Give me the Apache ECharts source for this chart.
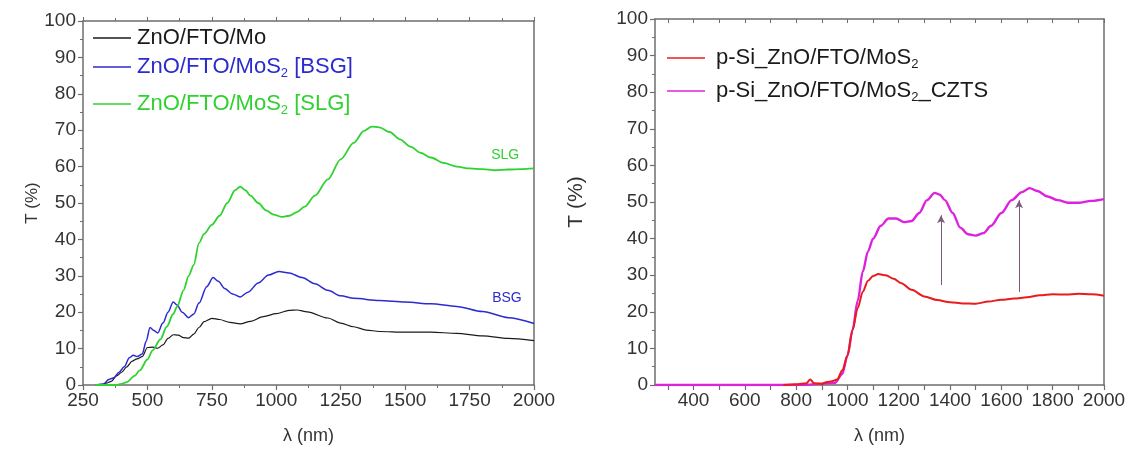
<!DOCTYPE html>
<html>
<head>
<meta charset="utf-8">
<script src="https://cdn.jsdelivr.net/npm/echarts@6/dist/echarts.min.js"></script>
<style>
  html, body { margin: 0; padding: 0; background: #fff; }
  #chart { width: 1129px; height: 457px; }
</style>
</head>
<body>
<div id="chart"></div>
<script>
// ---- Left panel: transmittance of ZnO/FTO stacks ----
const wlMo  = [300, 320, 340, 360, 380, 400, 420, 440, 460, 480, 500, 520, 540, 560, 580, 600, 620, 640, 660, 680, 700, 720, 750, 780, 820, 860, 900, 950, 1000, 1050, 1080, 1120, 1200, 1250, 1300, 1350, 1400, 1500, 1600, 1700, 1800, 1900, 2000];
const tMo   = [0, 0, 0.5, 1, 2.5, 3.5, 5, 6.5, 7.2, 7.8, 10.3, 10.4, 10.1, 11, 12.8, 13.8, 13.7, 13, 12.9, 14, 15.8, 17.4, 18.3, 18, 17.2, 16.8, 17.5, 18.8, 19.6, 20.5, 20.6, 20.1, 18.4, 17, 16, 15.1, 14.7, 14.5, 14.5, 14.2, 13.5, 12.8, 12.2];

const wlBsg = [300, 330, 350, 370, 390, 410, 430, 445, 460, 480, 495, 510, 525, 540, 560, 580, 600, 615, 635, 660, 680, 700, 730, 755, 775, 800, 830, 860, 890, 930, 970, 1010, 1050, 1100, 1150, 1200, 1250, 1300, 1400, 1500, 1600, 1700, 1800, 1900, 2000];
const tBsg  = [0, 0.3, 1.5, 2, 3.5, 5, 7.5, 8.2, 7.8, 8.5, 12, 15.8, 15, 14.3, 17, 20, 22.8, 22, 20, 18.5, 19.5, 22.5, 27, 29.5, 28.5, 26.5, 25, 24.2, 25.5, 28, 30.2, 31.2, 30.8, 29.5, 27.8, 26, 24.5, 23.8, 23.2, 22.8, 22.3, 21.6, 20.2, 18.5, 16.9];

const wlSlg = [300, 380, 400, 420, 450, 470, 500, 520, 550, 575, 600, 615, 640, 660, 680, 700, 720, 750, 780, 810, 840, 860, 880, 900, 930, 960, 990, 1020, 1050, 1080, 1110, 1150, 1200, 1250, 1300, 1340, 1370, 1400, 1440, 1480, 1520, 1560, 1600, 1650, 1700, 1750, 1800, 1850, 1900, 1950, 2000];
const tSlg  = [0, 0, 0.3, 0.8, 2.5, 4, 7, 9.5, 12.5, 16, 19.5, 21.5, 26, 30, 33, 39, 41.5, 44, 46.5, 50, 53.5, 54.5, 53.5, 52, 50, 48, 46.8, 46.2, 46.5, 47.5, 49, 52, 56.5, 62, 66.5, 69.8, 71, 70.8, 69.5, 67.5, 65.5, 63.8, 62.5, 61, 60, 59.5, 59.3, 59, 59.2, 59.3, 59.5];

// ---- Right panel: p-Si heterostructures ----
const wlPsi = [750, 800, 840, 855, 870, 900, 920, 940, 960, 980, 1000, 1020, 1040, 1060, 1080, 1100, 1120, 1150, 1180, 1210, 1250, 1300, 1350, 1400, 1450, 1500, 1550, 1600, 1650, 1700, 1750, 1800, 1850, 1900, 1950, 2000];
const tPsi  = [0, 0.2, 0.5, 1.5, 0.5, 0.3, 0.8, 1, 1.5, 4, 8, 15, 21, 25.5, 28.5, 29.8, 30.3, 30, 29, 27.8, 26, 24.2, 23.2, 22.6, 22.3, 22.2, 22.8, 23.3, 23.6, 24, 24.5, 24.8, 24.7, 24.9, 24.8, 24.4];

const wlCzts = [250, 400, 600, 800, 950, 980, 1000, 1020, 1040, 1060, 1080, 1100, 1130, 1160, 1190, 1220, 1250, 1280, 1310, 1340, 1360, 1380, 1410, 1440, 1470, 1500, 1530, 1560, 1600, 1640, 1680, 1710, 1740, 1780, 1820, 1860, 1900, 1950, 2000];
const tCzts  = [0, 0, 0, 0, 0.5, 3, 8, 15, 23, 31, 36.5, 40, 43.5, 45.5, 45.5, 44.5, 44.8, 47, 50.5, 52.5, 52, 50.5, 47, 43, 41.2, 40.8, 41.5, 43.5, 47, 50.5, 52.7, 53.8, 53, 51.5, 50.5, 49.8, 49.8, 50.3, 50.8];

// arrows marking the shift between the two spectra
const arrowWl   = [1365, 1669];
const arrowFrom = [27.3, 25.4];
const arrowTo   = [46.4, 50.5];

// axis ticks
const ticksY      = [0, 10, 20, 30, 40, 50, 60, 70, 80, 90, 100];
const ticksLeftX  = [250, 500, 750, 1000, 1250, 1500, 1750, 2000];
const ticksRightX = [400, 600, 800, 1000, 1200, 1400, 1600, 1800, 2000];
const minorRightX = [300, 400, 500, 600, 700, 800, 900, 1000, 1100, 1200, 1300, 1400, 1500, 1600, 1700, 1800, 1900, 2000];

const FONT = '"Liberation Sans", Arial, Helvetica, sans-serif';
const AXIS_COLOR = '#6e6e6e';
const LABEL_COLOR = '#333';
const plain = v => String(v);

const zip = (xs, ys) => xs.map((x, i) => [x, ys[i]]);

function bottomAxis(grid, extra) {
  return Object.assign({
    type: 'value', gridIndex: grid, position: 'bottom', min: 250, max: 2000,
    axisLine: { show: true, onZero: false, lineStyle: { color: AXIS_COLOR, width: 1.5 } },
    axisTick: { show: true, inside: false, length: 5, lineStyle: { color: AXIS_COLOR, width: 1.2 } },
    splitLine: { show: false },
    name: 'λ (nm)', nameLocation: 'middle', nameGap: 42,
    nameTextStyle: { color: LABEL_COLOR, fontSize: 18, fontFamily: FONT }
  }, extra);
}
function topAxis(grid, inside, extra) {
  return Object.assign({
    type: 'value', gridIndex: grid, position: 'top', min: 250, max: 2000,
    axisLine: { show: true, onZero: false, lineStyle: { color: AXIS_COLOR, width: 1.5 } },
    axisTick: { show: true, inside: inside, length: 4, lineStyle: { color: AXIS_COLOR, width: 1 } },
    axisLabel: { show: false }, splitLine: { show: false }
  }, extra);
}
function leftAxis(grid, nameGap, nameSize) {
  return {
    type: 'value', gridIndex: grid, position: 'left', min: 0, max: 100, interval: 10,
    axisLine: { show: true, onZero: false, lineStyle: { color: AXIS_COLOR, width: 1.5 } },
    axisTick: { show: true, inside: false, length: 5, lineStyle: { color: AXIS_COLOR, width: 1.2 },
                customValues: ticksY },
    minorTick: { show: true, splitNumber: 2, length: 3, lineStyle: { color: AXIS_COLOR, width: 1 } },
    axisLabel: { color: LABEL_COLOR, fontSize: 19, fontFamily: FONT, margin: 7, customValues: ticksY, formatter: plain },
    splitLine: { show: false },
    name: 'T (%)', nameLocation: 'middle', nameGap: nameGap,
    nameTextStyle: { color: LABEL_COLOR, fontSize: nameSize, fontFamily: FONT }
  };
}
function rightAxis(grid) {
  return {
    type: 'value', gridIndex: grid, position: 'right', min: 0, max: 100,
    axisLine: { show: true, onZero: false, lineStyle: { color: AXIS_COLOR, width: 1.5 } },
    axisTick: { show: false }, axisLabel: { show: false }, splitLine: { show: false }
  };
}

function lineSeries(name, xIdx, yIdx, data, color, width, extra) {
  return Object.assign({
    name: name, type: 'line', xAxisIndex: xIdx, yAxisIndex: yIdx,
    data: data, symbol: 'none', smooth: 0.3, smoothMonotone: 'x',
    lineStyle: { color: color, width: width }, itemStyle: { color: color },
    animation: false
  }, extra || {});
}

const legendLabels = {
  'ZnO/FTO/Mo': 'ZnO/FTO/Mo',
  'ZnO/FTO/MoS2 [BSG]': 'ZnO/FTO/MoS{sub|2} [BSG]',
  'ZnO/FTO/MoS2 [SLG]': 'ZnO/FTO/MoS{sub|2} [SLG]',
  'p-Si_ZnO/FTO/MoS2': 'p-Si_ZnO/FTO/MoS{sub|2}',
  'p-Si_ZnO/FTO/MoS2_CZTS': 'p-Si_ZnO/FTO/MoS{sub|2}_CZTS'
};
function legendItem(name, left, top, color, textGap) {
  return {
    data: [name], left: left, top: top, padding: 0, orient: 'vertical',
    icon: 'rect', itemWidth: 38, itemHeight: 1.6, itemGap: 0, selectedMode: false,
    formatter: n => legendLabels[n],
    textStyle: {
      color: color, fontSize: 22, fontFamily: FONT, lineHeight: 24,
      padding: [0, 0, 0, textGap],
      rich: { sub: { color: color, fontSize: 13, fontFamily: FONT, padding: [12, 0, 0, 0] } }
    }
  };
}

const C_MO = '#1a1a1a', C_BSG = '#2b2bd0', C_SLG = '#2fd22f', C_PSI = '#e81c1c', C_CZTS = '#dd22dd';

const option = {
  backgroundColor: '#fff',
  animation: false,
  grid: [
    { left: 83, top: 21, width: 451, height: 364 },
    { left: 655, top: 19, width: 449, height: 366 }
  ],
  xAxis: [
    bottomAxis(0, {
      interval: 250,
      axisLabel: { color: LABEL_COLOR, fontSize: 19, fontFamily: FONT, margin: 6, customValues: ticksLeftX, formatter: plain },
      minorTick: { show: true, splitNumber: 2, length: 3, lineStyle: { color: AXIS_COLOR, width: 1 } }
    }),
    topAxis(0, false, { interval: 250,
      minorTick: { show: true, splitNumber: 2, length: 3, lineStyle: { color: AXIS_COLOR, width: 1 } } }),
    bottomAxis(1, {
      axisLabel: { color: LABEL_COLOR, fontSize: 19, fontFamily: FONT, margin: 6, customValues: ticksRightX, formatter: plain },
      axisTick: { show: true, inside: false, length: 5, lineStyle: { color: AXIS_COLOR, width: 1.2 }, customValues: minorRightX }
    }),
    topAxis(1, true, {
      axisTick: { show: true, inside: true, length: 4, lineStyle: { color: AXIS_COLOR, width: 1 }, customValues: minorRightX }
    })
  ],
  yAxis: [
    leftAxis(0, 42, 17),
    rightAxis(0),
    leftAxis(1, 68, 21),
    rightAxis(1)
  ],
  legend: [
    legendItem('ZnO/FTO/Mo', 93, 26, C_MO, 1),
    legendItem('ZnO/FTO/MoS2 [BSG]', 93, 55, C_BSG, 1),
    legendItem('ZnO/FTO/MoS2 [SLG]', 93, 92, C_SLG, 1),
    legendItem('p-Si_ZnO/FTO/MoS2', 667, 46, '#1a1a1a', 6),
    legendItem('p-Si_ZnO/FTO/MoS2_CZTS', 667, 79, '#1a1a1a', 6)
  ],
  series: [
    lineSeries('ZnO/FTO/Mo', 0, 0, zip(wlMo, tMo), C_MO, 1.2),
    lineSeries('ZnO/FTO/MoS2 [BSG]', 0, 0, zip(wlBsg, tBsg), C_BSG, 1.5, {
      markPoint: {
        symbol: 'circle', symbolSize: 0, silent: true, animation: false,
        label: { show: true, position: 'inside', formatter: 'BSG', color: C_BSG, fontSize: 14, fontFamily: FONT },
        data: [{ coord: [1895, 23.8] }]
      }
    }),
    lineSeries('ZnO/FTO/MoS2 [SLG]', 0, 0, zip(wlSlg, tSlg), C_SLG, 1.8, {
      markPoint: {
        symbol: 'circle', symbolSize: 0, silent: true, animation: false,
        label: { show: true, position: 'inside', formatter: 'SLG', color: C_SLG, fontSize: 14, fontFamily: FONT },
        data: [{ coord: [1888, 63.2] }]
      }
    }),
    lineSeries('p-Si_ZnO/FTO/MoS2_CZTS', 2, 2, zip(wlCzts, tCzts), C_CZTS, 2.4, {
      markLine: {
        silent: true, animation: false, symbol: ['none', 'arrow'], symbolSize: [6, 8],
        label: { show: false },
        lineStyle: { color: '#7d5a7d', width: 1, type: 'solid' },
        data: arrowWl.map((w, i) => [{ coord: [w, arrowFrom[i]] }, { coord: [w, arrowTo[i]] }])
      }
    }),
    lineSeries('p-Si_ZnO/FTO/MoS2', 2, 2, zip(wlPsi, tPsi), C_PSI, 2)
  ]
};

const chart = echarts.init(document.getElementById('chart'), null, { renderer: 'canvas' });
chart.setOption(option);
</script>
</body>
</html>
